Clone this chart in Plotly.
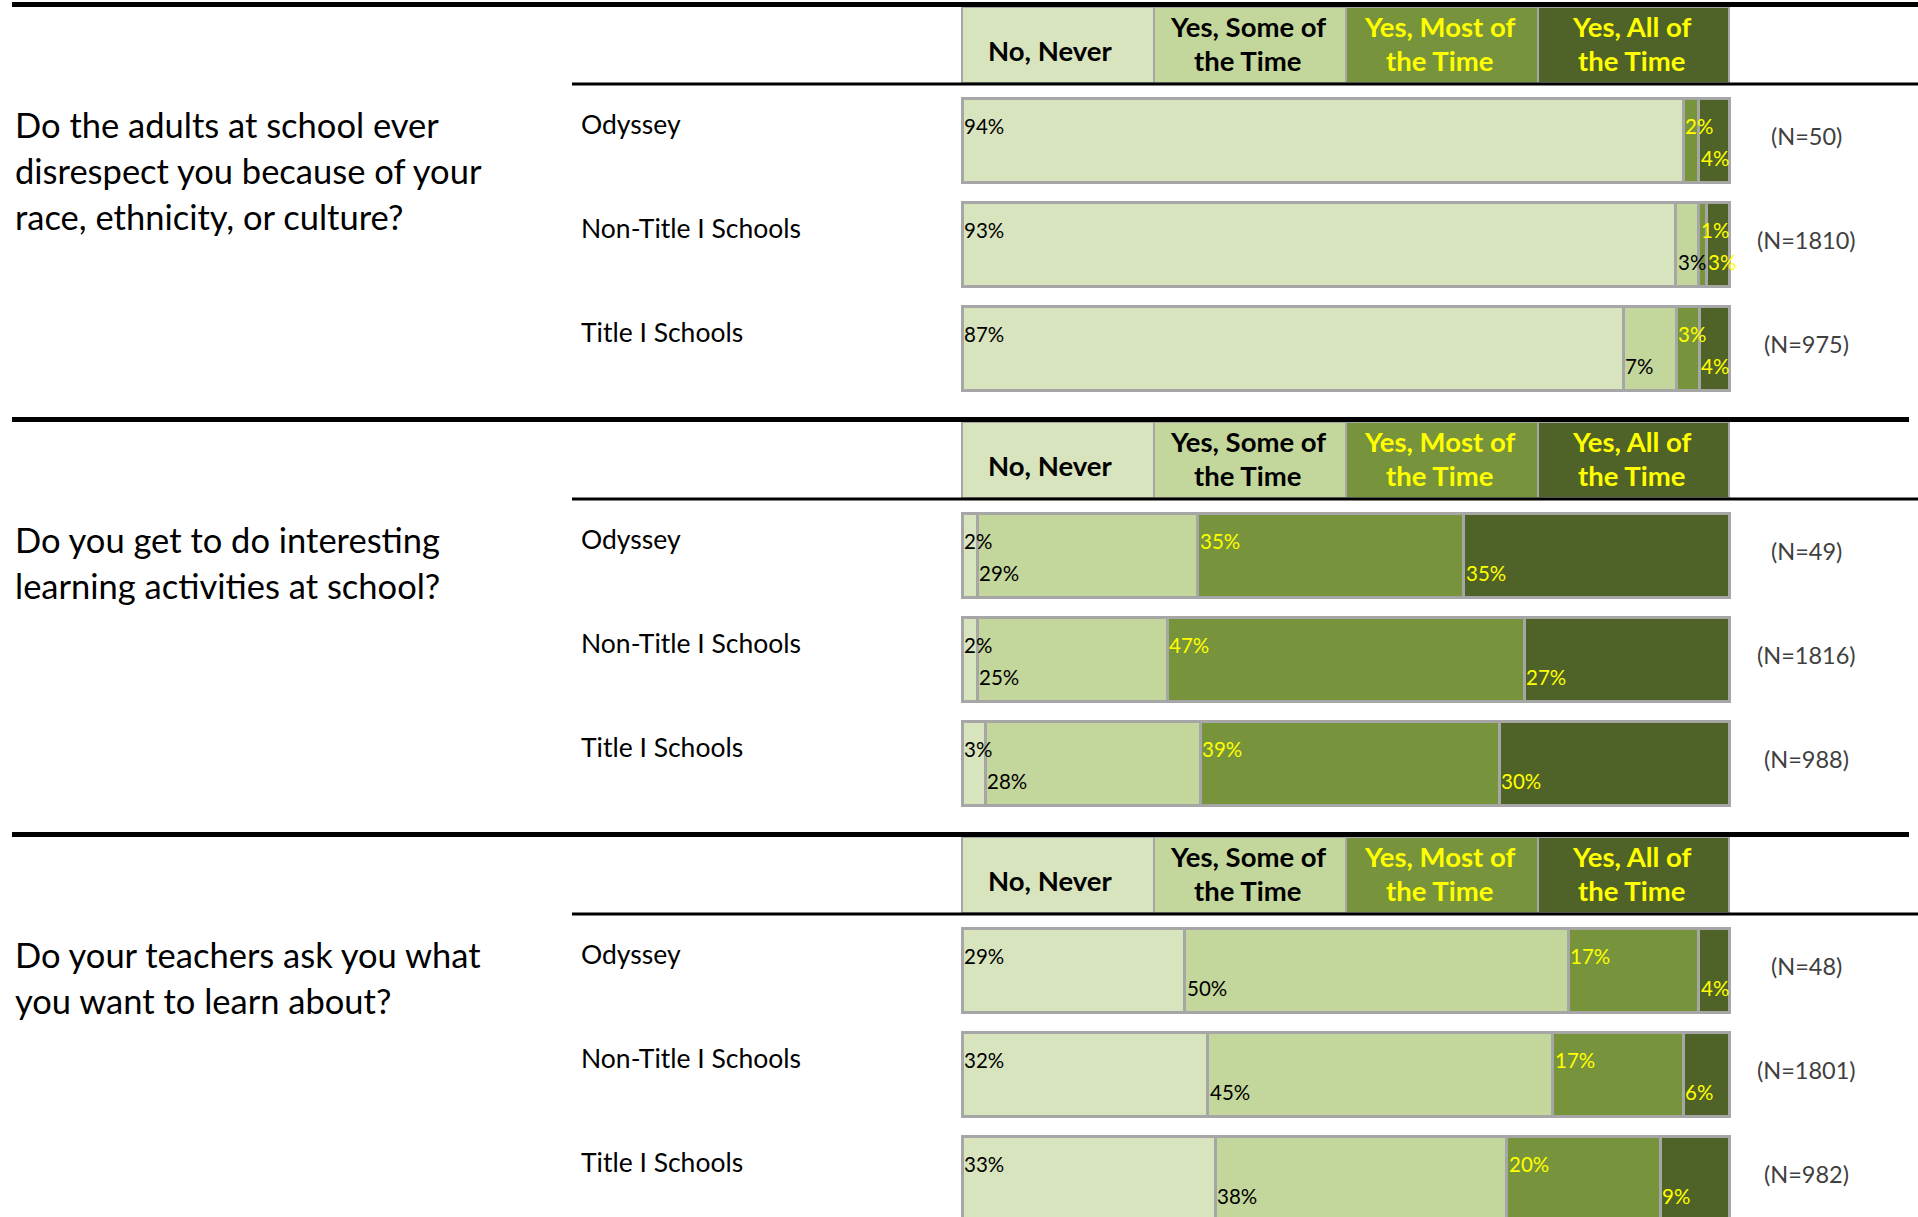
import plotly.graph_objects as go

W, H = 1918, 1217

# ---------------- data ----------------
categories = ["No, Never", "Yes, Some of the Time", "Yes, Most of the Time", "Yes, All of the Time"]
header_lines = [["No, Never"], ["Yes, Some of", "the Time"], ["Yes, Most of", "the Time"], ["Yes, All of", "the Time"]]
groups = ["Odyssey", "Non-Title I Schools", "Title I Schools"]

q1_lines = ["Do the adults at school ever", "disrespect you because of your", "race, ethnicity, or culture?"]
q1_never = [94, 93, 87]
q1_some = [0, 3, 7]
q1_most = [2, 1, 3]
q1_all = [4, 3, 4]
q1_n = [50, 1810, 975]

q2_lines = ["Do you get to do interesting", "learning activities at school?"]
q2_never = [2, 2, 3]
q2_some = [29, 25, 28]
q2_most = [35, 47, 39]
q2_all = [35, 27, 30]
q2_n = [49, 1816, 988]

q3_lines = ["Do your teachers ask you what", "you want to learn about?"]
q3_never = [29, 32, 33]
q3_some = [50, 45, 38]
q3_most = [17, 17, 20]
q3_all = [4, 6, 9]
q3_n = [48, 1801, 982]

sections = [
    (q1_lines, [q1_never, q1_some, q1_most, q1_all], q1_n),
    (q2_lines, [q2_never, q2_some, q2_most, q2_all], q2_n),
    (q3_lines, [q3_never, q3_some, q3_most, q3_all], q3_n),
]

# ---------------- style ----------------
colors = ["#D7E4BD", "#C3D69B", "#77933C", "#4F6228"]
txt_colors = ["#000000", "#000000", "#FFFF00", "#FFFF00"]
border = "#A6A6A6"
FONT = "Lato"

PX_PER_UNIT = 104.0
BAR_CENTER0 = 140.5  # px from section top to first bar centre
offsets_px = [0, 415, 830]

def px_to_paper(p):
    return 1 - p / H

fig = go.Figure()
annotations = []
shapes = []

x_left_px, x_right_px = 960.2, 1731.4

for k, (qlines, series, nvals) in enumerate(sections):
    ax = "" if k == 0 else str(k + 1)
    xa, ya = "x" + ax, "y" + ax
    off = offsets_px[k]
    top_px = off
    bot_px = min(off + 415, H)
    y_top = 1 + (top_px - off - BAR_CENTER0) / PX_PER_UNIT
    y_bot = 1 + (bot_px - off - BAR_CENTER0) / PX_PER_UNIT

    fig.layout["xaxis" + ax] = dict(domain=[x_left_px / W, x_right_px / W], range=[-0.25, 100.25],
                                    visible=False, anchor=ya, fixedrange=True)
    fig.layout["yaxis" + ax] = dict(domain=[px_to_paper(bot_px), px_to_paper(top_px)],
                                    range=[y_bot, y_top], visible=False, anchor=xa, fixedrange=True)

    # header (legend-like) cells
    for i, cat in enumerate(categories):
        fig.add_trace(go.Bar(
            x=[1], y=[0], orientation="h", xaxis=xa, yaxis=ya,
            width=[0.731], offset=[-0.284],
            marker=dict(color=colors[i], line=dict(color=border, width=2)),
            hoverinfo="skip", showlegend=False,
        ))
        lines = header_lines[i]
        if len(lines) == 1:
            ys = [0.13]
            xs = -8
        else:
            ys = [-0.10, 0.235]
            xs = -2
        for ln, yy in zip(lines, ys):
            annotations.append(dict(
                text="<b>" + ln + "</b>", x=12.5 + 25 * i, y=yy, xref=xa, yref=ya,
                showarrow=False, xanchor="center", yanchor="middle", xshift=xs,
                font=dict(family=FONT, size=27.5, color=txt_colors[i]),
            ))

    rows = [1, 2, 3]
    for i, cat in enumerate(categories):
        fig.add_trace(go.Bar(
            x=series[i], y=rows, orientation="h", xaxis=xa, yaxis=ya,
            width=0.8, name=cat,
            marker=dict(color=colors[i], line=dict(color=border, width=3)),
            hoverinfo="skip", showlegend=False,
        ))

    # value labels
    for r in range(3):
        vals = [series[i][r] for i in range(4)]
        total = sum(vals)
        cum = 0
        for i, v in enumerate(vals):
            if v > 0:
                annotations.append(dict(
                    text=f"{v}%", x=cum / total * 100, y=rows[r] + (-0.14 if i % 2 == 0 else 0.17),
                    xref=xa, yref=ya, showarrow=False, xanchor="left", yanchor="middle", xshift=0,
                    font=dict(family=FONT, size=20.5, color=txt_colors[i]),
                ))
            cum += v
        # row label
        annotations.append(dict(
            text=groups[r], x=579 / W, y=rows[r] - 0.16, xref="paper", yref=ya,
            showarrow=False, xanchor="left", yanchor="middle",
            font=dict(family=FONT, size=26.5, color="#000000"),
        ))
        # N label
        annotations.append(dict(
            text=f"(N={nvals[r]})", x=1806 / W, y=rows[r] - 0.04, xref="paper", yref=ya,
            showarrow=False, xanchor="center", yanchor="middle",
            font=dict(family=FONT, size=23.5, color="#404040"),
        ))

    # question text
    for j, ln in enumerate(qlines):
        annotations.append(dict(
            text=ln, x=12.5 / W, y=0.846 + 0.44 * j, xref="paper", yref=ya,
            showarrow=False, xanchor="left", yanchor="middle",
            font=dict(family=FONT, size=34.5, color="#000000"),
        ))

    # black rules
    sep_px = off + 4.5
    shapes.append(dict(type="line", xref="paper", yref="paper",
                       x0=12 / W, x1=1.0 if k == 0 else 1909 / W,
                       y0=px_to_paper(sep_px), y1=px_to_paper(sep_px),
                       line=dict(color="#000000", width=5), layer="above"))
    ul_px = off + 84
    shapes.append(dict(type="line", xref="paper", yref="paper",
                       x0=572 / W, x1=1.0,
                       y0=px_to_paper(ul_px), y1=px_to_paper(ul_px),
                       line=dict(color="#000000", width=3), layer="above"))

fig.update_layout(
    width=W, height=H, margin=dict(l=0, r=0, t=0, b=0),
    barmode="stack", barnorm="percent",
    paper_bgcolor="#FFFFFF", plot_bgcolor="#FFFFFF",
    showlegend=False, annotations=annotations, shapes=shapes,
    font=dict(family=FONT),
)

fig.write_html(
    "out.html",
    config={"displayModeBar": False},
    post_script="document.body.style.margin='0';document.body.style.overflow='hidden';",
)
